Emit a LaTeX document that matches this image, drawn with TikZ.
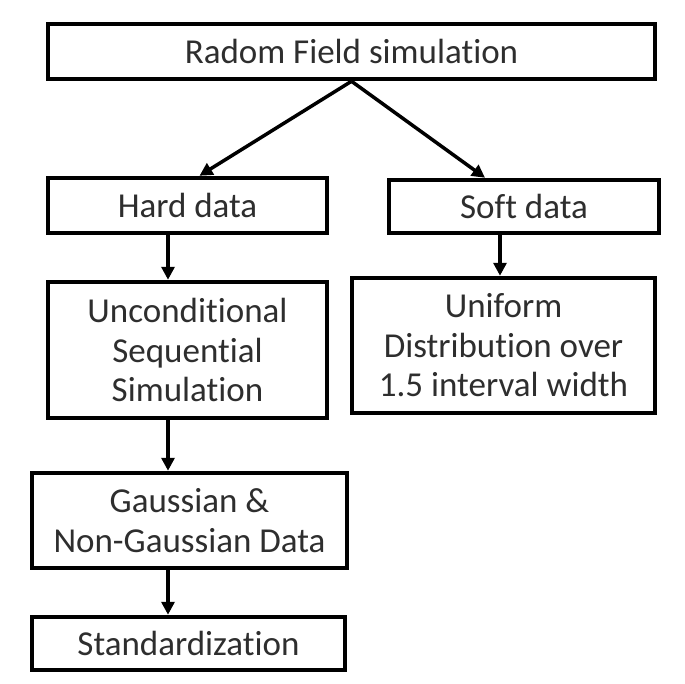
\documentclass[tikz,border=0pt]{standalone}
\usepackage{fontspec}
\setmainfont[Ligatures=NoCommon]{Carlito}
\usetikzlibrary{arrows.meta}
\begin{document}
\begin{tikzpicture}[x=1pt,y=-1pt,
  box/.style={draw=black,line width=4.5pt,inner sep=0pt,align=center,
    text=black!82,font=\fontsize{35}{39.5}\selectfont},
  arr/.style={draw=black,line width=3.5pt,-{Triangle[length=13pt,width=13pt]}}]
\useasboundingbox[fill=white] (0,0) rectangle (685,683);
\node[box,minimum width=607pt,minimum height=55pt] (top) at (351.5,51.5) {Radom Field simulation};
\node[box,minimum width=279pt,minimum height=55pt] (hard) at (187.5,205.5) {Hard data};
\node[box,minimum width=270pt,minimum height=53pt] (soft) at (524,206.5) {Soft data};
\node[box,minimum width=279pt,minimum height=136pt] (uncond) at (187.5,350) {Unconditional\\Sequential\\Simulation};
\node[box,minimum width=303pt,minimum height=135pt] (unif) at (503.5,345.5) {Uniform\\Distribution over\\1.5 interval width};
\node[box,minimum width=315pt,minimum height=95pt] (gauss) at (189.5,520.5) {Gaussian \&\\Non-Gaussian Data};
\node[box,minimum width=313pt,minimum height=53pt] (std) at (188.5,643.5) {Standardization};
\draw[arr] (top.south) -- ([xshift=12pt]hard.north);
\draw[arr] (top.south) -- ([xshift=-39pt]soft.north);
\draw[arr] ([xshift=-19.5pt]hard.south) -- ([xshift=-19.5pt]uncond.north);
\draw[arr] ([xshift=-24pt]soft.south) -- ([xshift=-24pt]soft.south |- unif.north);
\draw[arr] ([xshift=-19.5pt]uncond.south) -- ([xshift=-19.5pt]uncond.south |- gauss.north);
\draw[arr] ([xshift=-21.5pt]gauss.south) -- ([xshift=-21.5pt]gauss.south |- std.north);
\end{tikzpicture}
\end{document}
